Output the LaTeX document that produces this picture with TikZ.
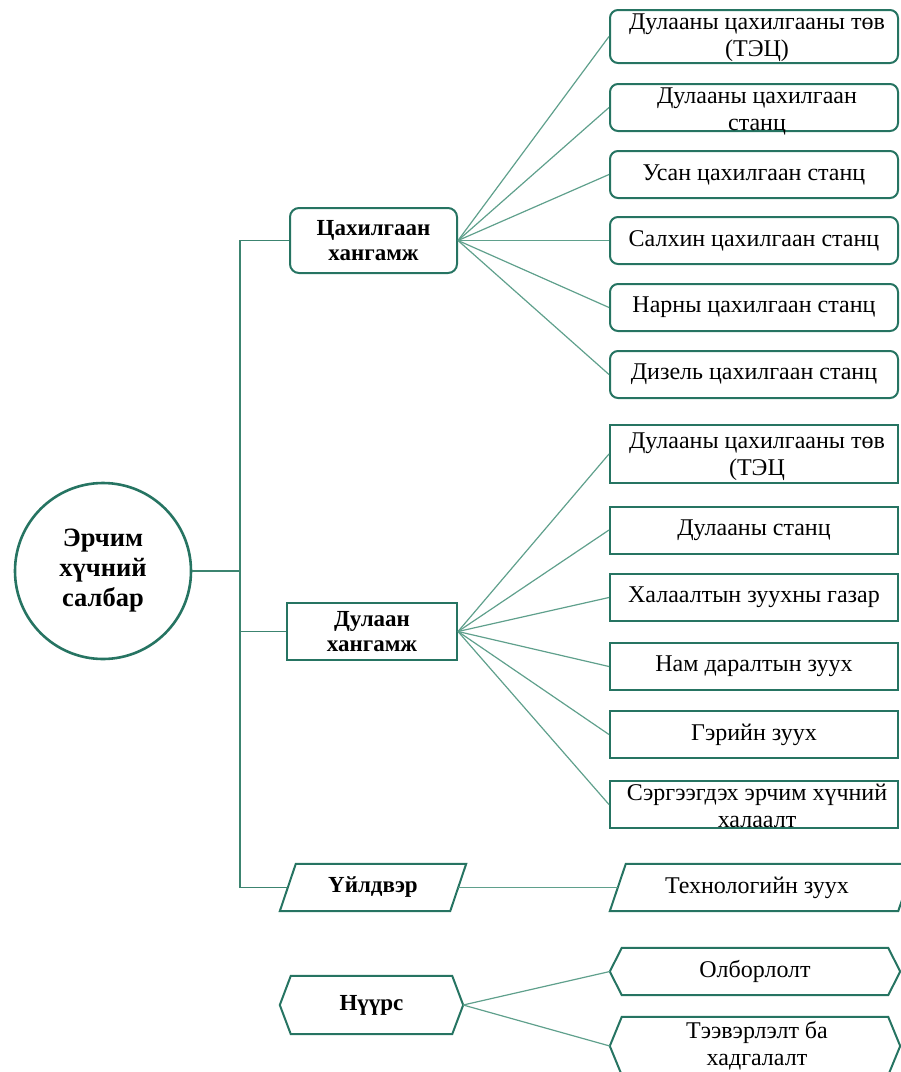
\documentclass[tikz,border=0pt]{standalone}
\usepackage{fontspec}
\setmainfont{Liberation Serif}
\definecolor{bordc}{RGB}{38,116,98}
\definecolor{connc}{RGB}{60,132,112}
\definecolor{fanc}{RGB}{95,160,140}
\begin{document}
\begin{tikzpicture}[x=1pt,y=-1pt,
  bd/.style={draw=bordc, line width=2pt},
  rbox/.style={bd, rounded corners=8pt, minimum width=288pt, minimum height=47pt, inner sep=0pt, txt},
  sbox/.style={bd, minimum width=288pt, minimum height=47pt, inner sep=0pt, txt},
  txt/.style={font=\fontsize{24}{27}\selectfont, align=center},
  btxt/.style={font=\fontsize{23}{25}\selectfont\bfseries, align=center},
  conn/.style={draw=connc, line width=1.2pt},
  fan/.style={draw=fanc, line width=1.2pt}]
\useasboundingbox (0,0) rectangle (901,1072);
\clip (0,0) rectangle (901,1072);

% root
\node[circle, draw=bordc, line width=2.6pt, minimum size=176pt, inner sep=0pt,
      font=\fontsize{26.5}{30}\selectfont\bfseries, align=center] (root) at (103,571) {Эрчим\\хүчний\\салбар};

% level 1
\node[bd, rounded corners=9pt, minimum width=167pt, minimum height=65pt, inner sep=0pt, btxt] (elec) at (373.5,240.5) {Цахилгаан\\хангамж};
\node[bd, minimum width=170pt, minimum height=57pt, inner sep=0pt, btxt] (heat) at (372,631.5) {Дулаан\\хангамж};
\node[minimum width=170pt, minimum height=47pt, inner sep=0pt, btxt] (ind) at (373,887.5) {Үйлдвэр};
\draw[bd] ([xshift=-8pt]ind.south west) -- ([xshift=8pt]ind.north west) -- ([xshift=8pt]ind.north east) -- ([xshift=-8pt]ind.south east) -- cycle;
\node[minimum width=183pt, minimum height=58pt, inner sep=0pt, btxt] (coal) at (371.5,1005) {Нүүрс};
\draw[bd] (coal.west) -- ([xshift=11pt]coal.north west) -- ([xshift=-11pt]coal.north east) -- (coal.east) -- ([xshift=-11pt]coal.south east) -- ([xshift=11pt]coal.south west) -- cycle;

% electricity group
\node[rbox, minimum height=53pt] (c1) at (754,36.5) {};
\node[txt, inner sep=0pt] at (757,38) {Дулааны цахилгааны төв\\(ТЭЦ)};
\node[rbox] (c2) at (754,107.5) {};
\node[txt, inner sep=0pt] at (757,111) {Дулааны цахилгаан\\станц};
\node[rbox] (c3) at (754,174.5) {Усан цахилгаан станц};
\node[rbox] (c4) at (754,240.5) {Салхин цахилгаан станц};
\node[rbox] (c5) at (754,307.5) {Нарны цахилгаан станц};
\node[rbox] (c6) at (754,374.5) {Дизель цахилгаан станц};

% heat group
\node[sbox, minimum height=58pt] (h1) at (754,454) {};
\node[txt, inner sep=0pt] at (757,457) {Дулааны цахилгааны төв\\(ТЭЦ};
\node[sbox] (h2) at (754,530) {Дулааны станц};
\node[sbox] (h3) at (754,597.5) {Халаалтын зуухны газар};
\node[sbox] (h4) at (754,666.5) {Нам даралтын зуух};
\node[sbox] (h5) at (754,734.5) {Гэрийн зуух};
\node[sbox] (h6) at (754,804.5) {};
\node[txt, inner sep=0pt] at (757,806) {Сэргээгдэх эрчим хүчний\\халаалт};

% industry
\node[minimum width=288pt, minimum height=47pt, inner sep=0pt] (tech) at (762,887.5) {};
\draw[bd] ([xshift=-8pt]tech.south west) -- ([xshift=8pt]tech.north west) -- ([xshift=8pt]tech.north east) -- ([xshift=-8pt]tech.south east) -- cycle;
\node[txt, inner sep=0pt] at (757,888) {Технологийн зуух};

% coal
\node[minimum width=290pt, minimum height=47pt, inner sep=0pt, txt] (olb) at (755,971.5) {Олборлолт};
\draw[bd] (olb.west) -- ([xshift=12pt]olb.north west) -- ([xshift=-12pt]olb.north east) -- (olb.east) -- ([xshift=-12pt]olb.south east) -- ([xshift=12pt]olb.south west) -- cycle;
\node[minimum width=290pt, minimum height=58pt, inner sep=0pt] (tee) at (755,1046) {};
\draw[bd] (tee.west) -- ([xshift=12pt]tee.north west) -- ([xshift=-12pt]tee.north east) -- (tee.east) -- ([xshift=-12pt]tee.south east) -- ([xshift=12pt]tee.south west) -- cycle;
\node[txt, inner sep=0pt] at (757,1046) {Тээвэрлэлт ба\\хадгалалт};

% connectors
\coordinate (j) at (240,571);
\draw[conn] (root.east) -- (j);
\draw[conn] (elec.west) -| (j);
\draw[conn] (heat.west) -| (j);
\draw[conn] (ind.west) -| (j);
\foreach \i in {1,...,6} {
  \draw[fan] (elec.east) -- (c\i.west);
  \draw[fan] (heat.east) -- (h\i.west);
}
\draw[fan] (ind.east) -- (tech.west);
\draw[fan] (coal.east) -- (olb.west);
\draw[fan] (coal.east) -- (tee.west);
\end{tikzpicture}
\end{document}
